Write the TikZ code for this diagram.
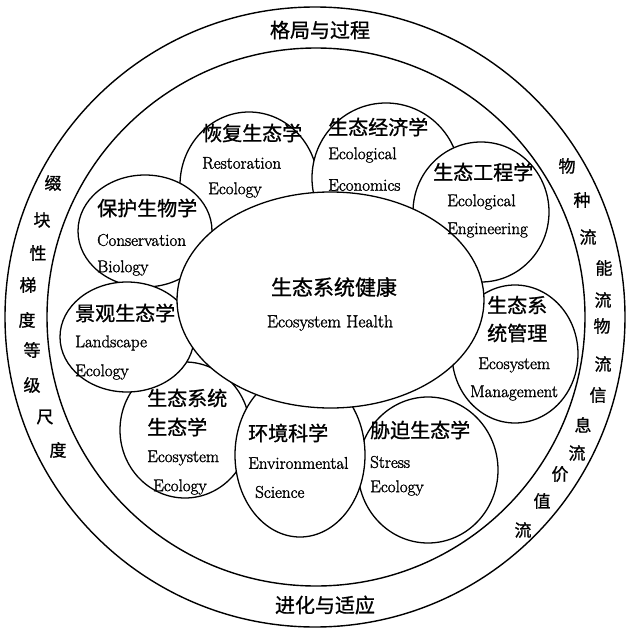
\documentclass[tikz,border=0pt]{standalone}
\usepackage{fontspec}
\newfontfamily\cjk{Noto Sans CJK SC}[FakeBold=1]
\newfontfamily\enf{Latin Modern Roman}[FakeBold=1.6]
\usetikzlibrary{shapes.geometric}
\begin{document}
\begin{tikzpicture}[x=1pt,y=-1pt,
  ring/.style={circle, draw, line width=1.4pt, inner sep=0pt},
  sat/.style={ellipse, draw, fill=white, line width=1.3pt, inner sep=0pt},
  cn/.style={font=\cjk\fontsize{20}{20}\selectfont, inner sep=0pt, anchor=west},
  en/.style={font=\enf\fontsize{17}{17}\selectfont, inner sep=0pt, anchor=west},
  side/.style={font=\cjk\fontsize{17}{17}\selectfont, inner sep=0pt},
  lbl/.style={font=\cjk\fontsize{20}{20}\selectfont, inner sep=0pt}]
\useasboundingbox (0,0) rectangle (632,629);
\fill[white] (0,0) rectangle (632,629);
% rings
\node[ring, minimum size=620pt] (outer) at (315,317) {};
\node[ring, minimum size=538pt] (inner) at (316,317) {};
% satellites (drawing order matters)
\node[sat, minimum width=138pt, minimum height=146pt] (rest) at (249,185) {};
\node[sat, minimum width=148pt, minimum height=150pt] (econ) at (386,178) {};
\node[sat, minimum width=136pt, minimum height=140pt] (eng) at (481,212) {};
\node[sat, minimum width=140pt, minimum height=146pt] (stress) at (428,470) {};
\node[sat, minimum width=126pt, minimum height=138pt] (mgmt) at (515,354) {};
\node[sat, minimum width=130pt, minimum height=136pt] (ecoeco) at (185,430) {};
\node[sat, minimum width=130pt, minimum height=164pt] (env) at (300,455) {};
\node[sat, minimum width=134pt, minimum height=112pt] (cons) at (145,231) {};
\node[sat, minimum width=134pt, minimum height=110pt] (land) at (127,337) {};
\node[sat, minimum width=307pt, minimum height=216pt] (health) at (330.5,300) {};
% texts
\node[cn] (t1a) at (202,133) {恢复生态学};
\node[en] (t1b) at (202,163) {Restoration};
\node[en] (t1c) at (208,190) {Ecology};
\node[cn] (t2a) at (328,127) {生态经济学};
\node[en] (t2b) at (328,155) {Ecological};
\node[en] (t2c) at (328,185) {Economics};
\node[cn] (t3a) at (433,172) {生态工程学};
\node[en] (t3b) at (447,202) {Ecological};
\node[en] (t3c) at (447,230) {Engineering};
\node[cn] (t4a) at (97,208) {保护生物学};
\node[en] (t4b) at (97,240) {Conservation};
\node[en] (t4c) at (97,268) {Biology};
\node[cn] (t5a) at (75,313) {景观生态学};
\node[en] (t5b) at (75,343) {Landscape};
\node[en] (t5c) at (75,372) {Ecology};
\node[cn] (t6a) at (487,305) {生态系};
\node[cn] (t6b) at (487,333) {统管理};
\node[en] (t6c) at (478,365) {Ecosystem};
\node[en] (t6d) at (470,393) {Management};
\node[cn] (t7a) at (370,430) {胁迫生态学};
\node[en] (t7b) at (370,462) {Stress};
\node[en] (t7c) at (370,488) {Ecology};
\node[cn] (t8a) at (248,433) {环境科学};
\node[en] (t8b) at (248,463) {Environmental};
\node[en] (t8c) at (255,492) {Science};
\node[cn] (t9a) at (147,398) {生态系统};
\node[cn] (t9b) at (147,427) {生态学};
\node[en] (t9c) at (147,458) {Ecosystem};
\node[en] (t9d) at (153,487) {Ecology};
\node[lbl, font=\cjk\fontsize{21}{21}\selectfont] (hc) at (334,287) {生态系统健康};
\node[en, anchor=center, font=\enf\fontsize{17.5}{17.5}\selectfont] (he) at (330,323) {Ecosystem Health};
\node[lbl] (top) at (320,30) {格局与过程};
\node[lbl] (bot) at (325,605) {进化与适应};
% left ring text
\node[side] (l1) at (53,183) {缀};
\node[side] (l2) at (42,220) {块};
\node[side] (l3) at (38,253) {性};
\node[side] (l4) at (28,285) {梯};
\node[side] (l5) at (27,320) {度};
\node[side] (l6) at (32,350) {等};
\node[side] (l7) at (32,385) {级};
\node[side] (l8) at (45,417) {尺};
\node[side] (l9) at (58,450) {度};
% right ring text
\node[side] (r1) at (567,166) {物};
\node[side] (r2) at (582,200) {种};
\node[side] (r3) at (588,237) {流};
\node[side] (r4) at (604,268) {能};
\node[side] (r5) at (603,300) {流};
\node[side] (r6) at (602,326) {物};
\node[side] (r7) at (603,364) {流};
\node[side] (r8) at (598,395) {信};
\node[side] (r9) at (583,425) {息};
\node[side] (r10) at (577,453) {流};
\node[side] (r11) at (560,474) {价};
\node[side] (r12) at (542,501) {值};
\node[side] (r13) at (523,530) {流};
\end{tikzpicture}
\end{document}
